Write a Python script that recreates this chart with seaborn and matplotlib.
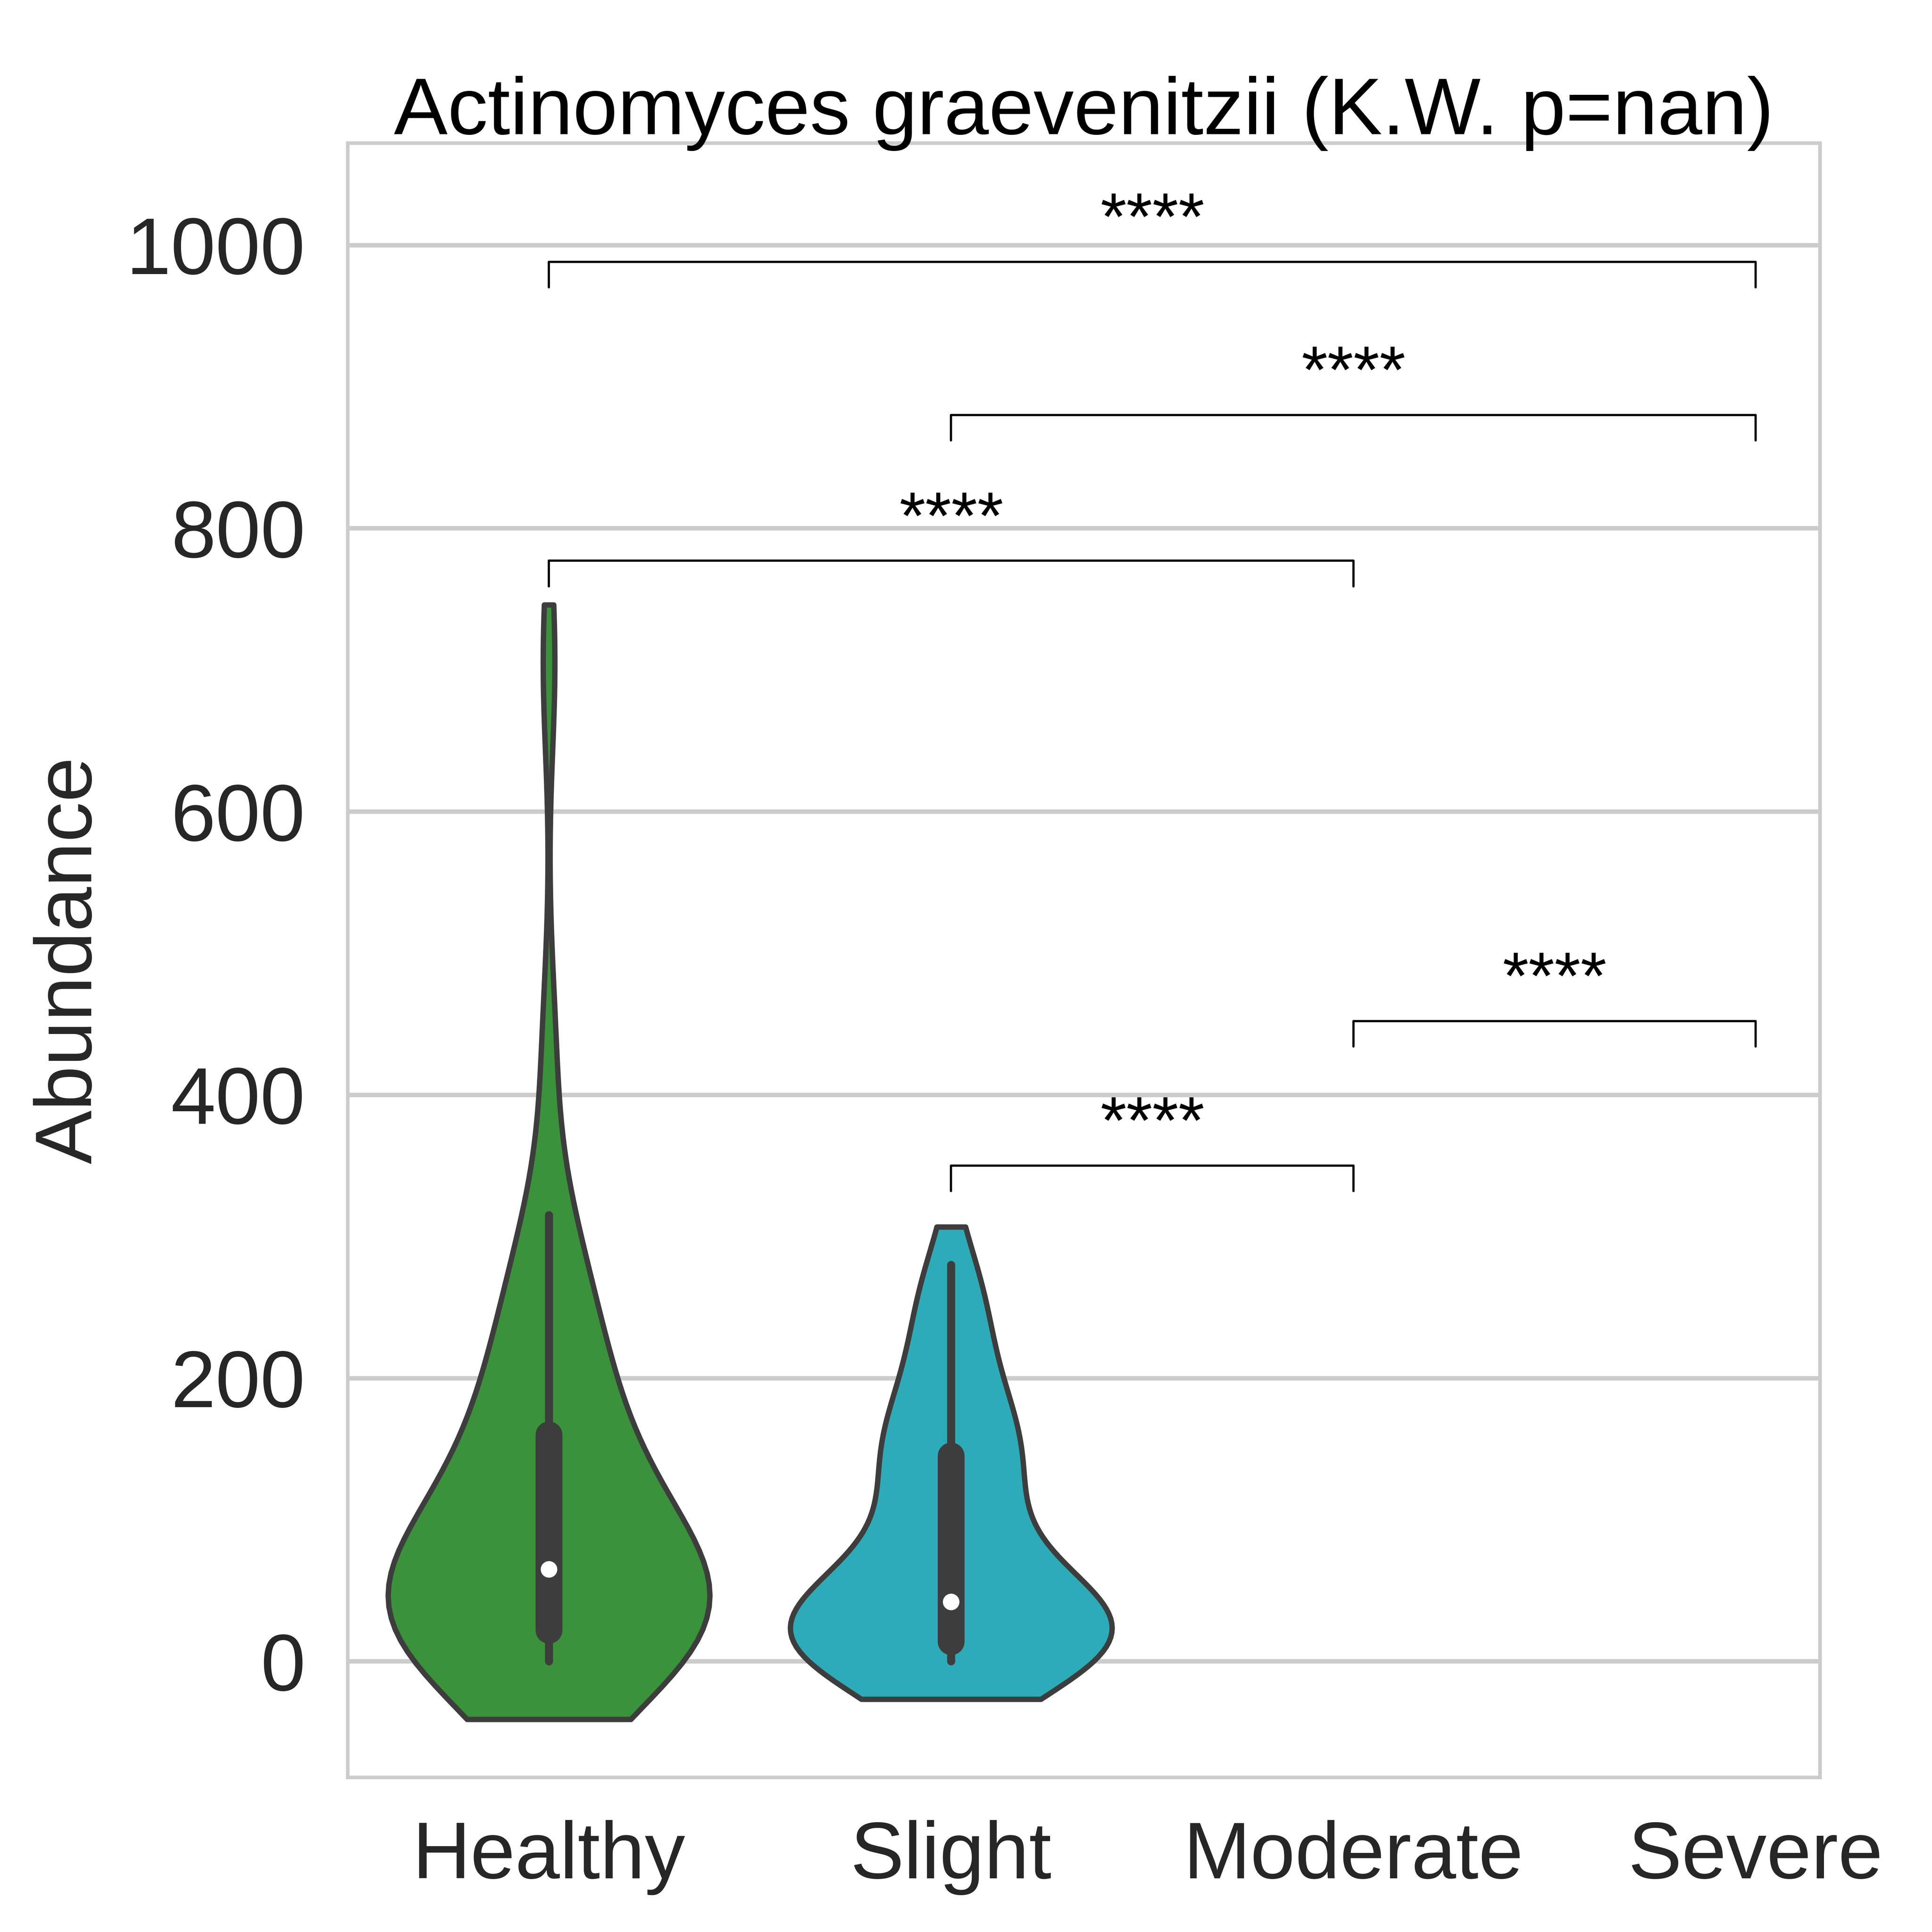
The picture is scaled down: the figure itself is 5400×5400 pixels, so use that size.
import numpy as np
import pandas as pd
import matplotlib.pyplot as plt
import seaborn as sns

groups = ["Healthy", "Slight", "Moderate", "Severe"]
healthy = [0, 0, 0, 2, 5, 8, 10, 12, 15, 18, 20, 22, 25, 28, 30, 35, 40, 45, 50, 55,
           60, 62, 65, 70, 75, 80, 90, 100, 110, 120, 130, 140, 150, 160, 175, 190, 200,
           215, 230, 250, 270, 290, 315, 430, 705]
slight = [0, 0, 0, 2, 4, 6, 8, 10, 12, 14, 16, 18, 20, 24, 28, 32, 35, 38, 42, 48, 55,
          65, 80, 100, 120, 128, 135, 145, 150, 160, 170, 180, 200, 225, 245, 260, 280]
colors = ["tab:green", "tab:cyan", "tab:blue", "tab:red"]
pairs = [("Healthy", "Severe"), ("Slight", "Severe"), ("Healthy", "Moderate"),
         ("Moderate", "Severe"), ("Slight", "Moderate")]
bracket_y = [988, 880, 777, 452, 350]
labels = ["****"] * 5

df = pd.DataFrame({"group": ["Healthy"] * len(healthy) + ["Slight"] * len(slight),
                   "value": healthy + slight})

sns.set_theme(style="whitegrid")
plt.rcParams['font.family'] = ['Arial', 'Liberation Sans', 'DejaVu Sans']
fig, ax = plt.subplots(figsize=(6, 6), dpi=900)
sns.violinplot(data=df, x="group", y="value", hue="group", order=groups, hue_order=groups,
               palette=colors, cut=0.65, linewidth=1.2, legend=False, width=0.8,
               inner_kws=dict(box_width=6, whis_width=1.8, marker="o", markersize=2.5),
               ax=ax)
ax.set_xlim(-0.5, 3.16)
ax.set_ylim(-82, 1072)
ax.set_xlabel("")
ax.set_ylabel("Abundance", fontsize=18)
ax.tick_params(labelsize=18)
ax.set_title("Actinomyces graevenitzii (K.W. p=nan)", fontsize=18, color="black", pad=2)
for s in ax.spines.values():
    s.set_linewidth(0.8)

for (a, b), y, lab in zip(pairs, bracket_y, labels):
    x1, x2 = groups.index(a), groups.index(b)
    ax.plot([x1, x1, x2, x2], [y - 18, y, y, y - 18], color="black", lw=0.5)
    ax.text((x1 + x2) / 2, y + 6, lab, ha="center", va="bottom", fontsize=15, color="black")

plt.subplots_adjust(left=0.18, right=0.942, top=0.926, bottom=0.08)
fig.savefig("out.png")
